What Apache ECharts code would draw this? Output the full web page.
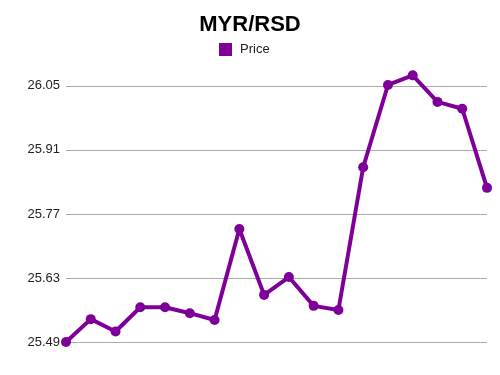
<!DOCTYPE html>
<html><head><meta charset="utf-8">
<script src="https://cdn.jsdelivr.net/npm/echarts@6/dist/echarts.min.js"></script>
<style>html,body{margin:0;padding:0;background:#fff}#c{width:500px;height:375px}</style>
</head><body><div id="c"></div>
<script>
const categories = ['1','2','3','4','5','6','7','8','9','10','11','12','13','14','15','16','17','18'];
const price = [25.490, 25.540, 25.513, 25.566, 25.566, 25.553, 25.538, 25.737, 25.593, 25.632, 25.569, 25.560, 25.872, 26.052, 26.073, 26.015, 26.000, 25.827];
const yTicks = [25.49, 25.63, 25.77, 25.91, 26.05];

const chart = echarts.init(document.getElementById('c'), null, {renderer:'canvas'});
chart.setOption({
  animation: false,
  backgroundColor: '#fff',
  title: {text: 'MYR/RSD', left: 'center', top: 9,
    textStyle: {fontFamily: 'Liberation Sans, Arial, sans-serif', fontSize: 22, fontWeight: 'bold', color: '#000'}},
  legend: {data: [{name: 'Price', icon: 'rect'}], top: 43, left: 219, padding: 0, itemWidth: 13, itemHeight: 13, itemGap: 8,
    itemStyle: {color: '#7f0099', borderWidth: 0}, lineStyle: {width: 0},
    textStyle: {fontFamily: 'Liberation Sans, Arial, sans-serif', fontSize: 13, color: '#222', padding: [0, 0, 0, 3]}},
  grid: {left: 66, right: 13, top: 63, bottom: 33, containLabel: false},
  xAxis: {type: 'category', data: categories, boundaryGap: false,
    axisLine: {show: false}, axisTick: {show: false}, axisLabel: {show: false}, splitLine: {show: false}},
  yAxis: {type: 'value', min: 25.49, max: 26.1,
    axisLine: {show: false}, axisTick: {show: false, customValues: yTicks},
    axisLabel: {customValues: yTicks, formatter: v => v.toFixed(2), margin: 6,
      fontFamily: 'Liberation Sans, Arial, sans-serif', fontSize: 13, color: '#222'},
    splitLine: {show: true, lineStyle: {color: '#aaaaaa', width: 1}}},
  series: [{name: 'Price', type: 'line', data: price, color: '#7f0099',
    lineStyle: {width: 4, color: '#7f0099'}, symbol: 'circle', symbolSize: 10, showSymbol: true,
    itemStyle: {color: '#7f0099'}}]
});
</script></body></html>
